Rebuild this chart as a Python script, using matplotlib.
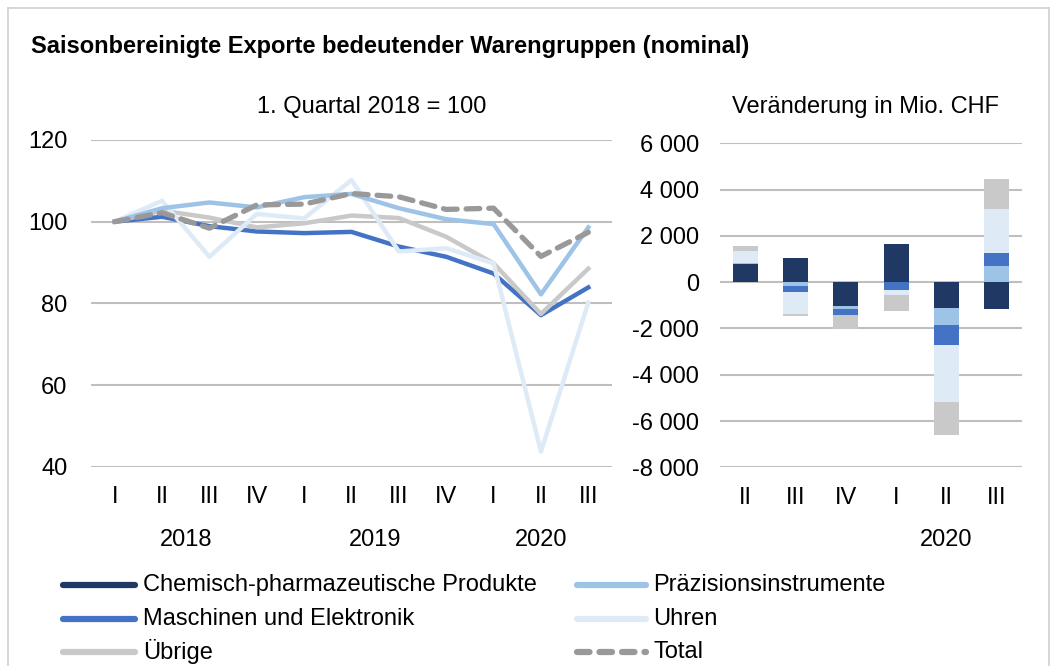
import matplotlib
matplotlib.use("Agg")
import matplotlib.pyplot as plt
import numpy as np
from matplotlib.lines import Line2D
from matplotlib.transforms import blended_transform_factory

plt.rcParams['font.family'] = ['Liberation Sans', 'DejaVu Sans']

# ---------------- data ----------------
quarters_left = ["I", "II", "III", "IV", "I", "II", "III", "IV", "I", "II", "III"]
years_left = ["2018", "2019", "2020"]
year_centers_left = [1.5, 5.5, 9.0]

maschinen = [100, 101.2, 98.9, 97.6, 97.2, 97.5, 93.9, 91.4, 87.3, 77.1, 83.9]
praezision = [100, 103.3, 104.7, 103.5, 106.0, 106.8, 103.3, 100.6, 99.4, 82.2, 98.6]
uhren = [100, 105.1, 91.4, 101.9, 100.8, 110.2, 92.7, 93.5, 89.8, 43.7, 80.2]
uebrige = [100, 102.7, 101.0, 98.6, 99.6, 101.5, 100.9, 96.3, 89.8, 77.4, 88.5]
total = [100, 102.2, 98.4, 104.1, 104.3, 106.9, 106.1, 103.0, 103.3, 91.5, 97.4]

quarters_right = ["II", "III", "IV", "I", "II", "III"]
years_right = ["2020"]
year_centers_right = [4.0]

# change in Mio. CHF, stacking order: Chem, Präz, Masch, Uhren, Übrige
bar_chem = [765, 1055, -1040, 1630, -1107, -1153]
bar_praez = [60, -170, -130, 0, -727, 692]
bar_masch = [20, -260, -230, -350, -865, 549]
bar_uhren = [490, -965, -20, -190, -2494, 1932]
bar_uebrige = [240, -70, -585, -710, -1395, 1297]

series_names = ["Chemisch-pharmazeutische Produkte", "Präzisionsinstrumente",
                "Maschinen und Elektronik", "Uhren", "Übrige", "Total"]

# ---------------- style ----------------
C_CHEM = "#203864"
C_PRAEZ = "#9DC3E6"
C_MASCH = "#4472C4"
C_UHREN = "#DEEBF7"
C_UEBR = "#C9C9C9"
C_TOTAL = "#999999"
GRID = "#BFBFBF"
FS = 17

W, H = 1059, 666
fig = plt.figure(figsize=(W / 100, H / 100), dpi=100)

def fx(px):
    return px / W

def fy(py):
    return 1 - py / H

# ---------------- left line chart ----------------
axL = fig.add_axes([fx(91), fy(466.7), fx(612) - fx(91), fy(140) - fy(466.7)])
x = np.arange(len(quarters_left))
lw = 3.2
axL.plot(x, uebrige, color=C_UEBR, lw=lw, solid_joinstyle='round', zorder=3)
axL.plot(x, uhren, color=C_UHREN, lw=lw, solid_joinstyle='round', zorder=3)
axL.plot(x, praezision, color=C_PRAEZ, lw=lw, solid_joinstyle='round', zorder=3)
axL.plot(x, maschinen, color=C_MASCH, lw=lw, solid_joinstyle='round', zorder=2.9)
axL.plot(x, total, color=C_TOTAL, lw=lw + 0.6, dashes=(2.6, 1.7),
         dash_capstyle='round', solid_joinstyle='round', zorder=4)
axL.set_xlim(-0.5, len(x) - 0.5)
axL.set_ylim(40, 120)
axL.set_yticks([40, 60, 80, 100, 120])
axL.grid(axis='y', color=GRID, lw=1.5)
axL.set_axisbelow(True)
axL.set_xticks(x)
axL.set_xticklabels(quarters_left)
axL.tick_params(axis='both', length=0, labelsize=FS)
axL.tick_params(axis='x', pad=14)
axL.tick_params(axis='y', pad=17)
for s in axL.spines.values():
    s.set_visible(False)
trL = blended_transform_factory(axL.transData, fig.transFigure)
for yl, xc in zip(years_left, year_centers_left):
    axL.text(xc, fy(540), yl, transform=trL, ha='center', va='center', fontsize=FS)

# ---------------- right bar chart ----------------
axR = fig.add_axes([fx(720), fy(467.3), fx(1022) - fx(720), fy(143.3) - fy(467.3)])
xb = np.arange(len(quarters_right))
stack = [(bar_chem, C_CHEM), (bar_praez, C_PRAEZ), (bar_masch, C_MASCH),
         (bar_uhren, C_UHREN), (bar_uebrige, C_UEBR)]
pos = np.zeros(len(xb))
neg = np.zeros(len(xb))
for vals, col in stack:
    v = np.array(vals, dtype=float)
    bottoms = np.where(v >= 0, pos, neg)
    axR.bar(xb, v, bottom=bottoms, width=0.5, color=col, zorder=3)
    pos = pos + np.where(v >= 0, v, 0)
    neg = neg + np.where(v < 0, v, 0)
axR.set_xlim(-0.5, len(xb) - 0.5)
axR.set_ylim(-8000, 6000)
axR.set_yticks(np.arange(-8000, 6001, 2000))
axR.set_yticklabels([f"{int(t):,}".replace(",", " ") for t in np.arange(-8000, 6001, 2000)])
axR.grid(axis='y', color=GRID, lw=1.5)
axR.set_axisbelow(True)
axR.set_xticks(xb)
axR.set_xticklabels(quarters_right)
axR.tick_params(axis='both', length=0, labelsize=FS)
axR.tick_params(axis='x', pad=14)
axR.tick_params(axis='y', pad=15)
for s in axR.spines.values():
    s.set_visible(False)
trR = blended_transform_factory(axR.transData, fig.transFigure)
for yl, xc in zip(years_right, year_centers_right):
    axR.text(xc, fy(540), yl, transform=trR, ha='center', va='center', fontsize=FS)

# ---------------- titles ----------------
fig.text(fx(31), fy(47), "Saisonbereinigte Exporte bedeutender Warengruppen (nominal)",
         fontsize=17, fontweight='bold', ha='left', va='center')
fig.text(fx(372), fy(107), "1. Quartal 2018 = 100", fontsize=FS, ha='center', va='center')
fig.text(fx(866), fy(107), "Veränderung in Mio. CHF", fontsize=FS, ha='center', va='center')

# ---------------- legend ----------------
leg_items = [
    (series_names[0], C_CHEM, 63, 135, 143, 585, False),
    (series_names[2], C_MASCH, 63, 135, 143, 619, False),
    (series_names[4], C_UEBR, 63, 135, 143, 652, False),
    (series_names[1], C_PRAEZ, 577, 646, 653, 585, False),
    (series_names[3], C_UHREN, 577, 646, 653, 619, False),
    (series_names[5], C_TOTAL, 577, 646, 653, 652, True),
]
for name, col, x0, x1, xt, yy, dashed in leg_items:
    kw = dict(color=col, lw=4.5, solid_capstyle='round', transform=fig.transFigure)
    if dashed:
        kw.update(dashes=(2.0, 1.6), dash_capstyle='round')
    fig.add_artist(Line2D([fx(x0), fx(x1)], [fy(yy), fy(yy)], **kw))
    fig.text(fx(xt), fy(yy), name, fontsize=FS, ha='left', va='center')

# ---------------- frame ----------------
bc = "#D0D0D0"
fig.add_artist(Line2D([fx(8), fx(1049)], [fy(8), fy(8)], color=bc, lw=1.2, transform=fig.transFigure))
fig.add_artist(Line2D([fx(8), fx(8)], [fy(8), 0], color=bc, lw=1.2, transform=fig.transFigure))
fig.add_artist(Line2D([fx(1049), fx(1049)], [fy(8), 0], color=bc, lw=1.2, transform=fig.transFigure))

fig.savefig("out.png", dpi=100)
